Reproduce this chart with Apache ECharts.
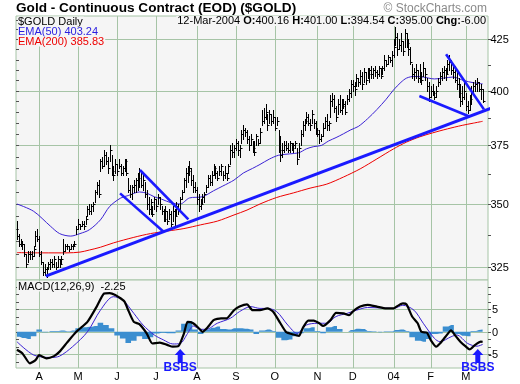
<!DOCTYPE html>
<html><head><meta charset="utf-8">
<script src="https://cdn.jsdelivr.net/npm/echarts@6/dist/echarts.min.js"></script>
<style>html,body{margin:0;padding:0;background:#fff}#c{width:520px;height:384px}</style>
</head><body><div id="c"></div>
<script>
// ---- Data (trading-day index 0 = 14-Mar-2003 ... 251 = 12-Mar-2004) ----
const monthLabels = ['A','M','J','J','A','S','O','N','D','04','F','M'];
const monthIdx = [12,33,54,75,97,118,139,162,181,203,223,242];

const high = [
343,338,336,335,334,330,331,331,331,333,
339,340,337,331,327,326,325,327,328,328,
329,327,329,328,329,336,334,334,333,334,
334,335,341,344,342,343,343,345,349,350,
350,351,356,359,360,369,370,373,372,370,
375,371,366,369,367,369,367,366,369,369,
361,358,358,360,361,363,365,363,362,359,
356,353,352,349,353,352,354,353,349,348,
349,347,348,347,349,348,351,350,353,356,
361,365,366,368,365,362,359,357,354,352,
354,355,358,362,362,364,367,366,364,366,
367,364,366,363,367,375,376,375,378,377,
375,382,384,383,382,379,380,377,377,380,
378,383,391,392,394,389,391,389,391,388,
388,382,379,376,377,377,376,377,376,376,
377,374,376,382,386,387,390,389,387,391,
387,386,383,382,380,385,388,389,386,398,
399,398,393,396,398,396,396,395,398,401,
405,405,404,408,406,410,409,411,409,411,
411,412,411,412,410,412,411,412,417,415,
417,416,419,425,431,428,425,428,424,430,
428,425,421,413,411,413,410,413,409,414,
411,406,404,402,403,400,402,406,409,411,
412,411,415,417,415,413,412,409,406,403,
402,404,399,395,398,402,404,405,406,404,
403,401];
const low = [
336,333,333,332,329,325,327,328,328,329,
333,335,329,326,322,322,321,324,324,325,
325,324,325,325,326,330,331,332,331,332,
332,333,338,340,340,341,340,342,345,346,
346,347,351,354,353,364,365,366,367,363,
368,362,360,363,362,365,362,362,364,362,
355,353,352,355,355,356,357,357,356,353,
348,346,346,345,348,347,350,348,346,343,
343,342,344,341,343,341,345,346,348,352,
355,357,359,362,358,355,355,350,347,348,
350,351,355,357,358,358,362,361,360,362,
362,360,361,360,363,367,370,370,373,371,
370,376,378,379,376,373,375,372,371,375,
375,376,384,385,387,382,385,384,385,382,
384,372,368,370,372,373,372,372,373,372,
374,367,370,375,379,382,385,384,382,385,
383,380,379,376,377,379,383,382,382,388,
393,390,386,389,390,389,392,389,394,395,
397,400,398,402,402,403,401,404,403,406,
404,406,406,407,406,407,406,408,410,412,
413,414,412,416,422,417,420,419,417,421,
421,417,413,406,405,406,404,404,403,407,
405,400,395,397,398,396,397,402,403,405,
406,405,408,410,408,406,404,401,397,393,
394,396,391,389.5,391,394,399,400,400,400,
396,394.54];
const close = [
337,334,334,334,330,326,330,330,329,332,
337,336,330,327,323,324,322,326,327,326,
328,325,328,326,328,331,333,333,332,333,
333,334,340,342,341,342,341,344,348,347,
349,350,355,358,354,368,366,371,368,365,
373,364,362,367,364,366,363,365,368,363,
356,354,357,358,360,361,364,358,360,354,
350,348,351,346,352,349,353,350,347,344,
347,343,346,342,347,345,349,348,352,355,
360,363,364,365,360,357,356,352,349,350,
353,354,357,361,359,362,365,363,361,364,
366,362,363,361,366,373,372,374,376,373,
374,380,382,381,378,375,378,374,372,379,
376,381,386,388,390,384,389,386,388,383,
386,373,371,373,375,374,373,376,374,375,
376,369,374,380,384,386,388,385,384,389,
385,382,380,378,379,383,386,384,385,395,
396,392,388,394,391,393,394,390,396,399,
403,402,401,406,404,407,403,409,405,408,
410,408,410,409,408,411,407,411,415,413,
416,415,417,421,426,420,422,424,419,428,
423,420,414,408,409,410,406,407,405,411,
408,402,397,400,399,397,400,404,407,409,
410,408,413,414,410,409,405,403,399,395,
397,400,393,391,396,399,402,403,404,401,
401,395];

const ema50X = [0,9,18,23,29,34,39,45,50,56,60,66,70,74,78,83,88,93,100,106,111,117,122,127,131,136,141,147,152,156,160,164,168,172,176,180,184,189,194,199,203,207,210,214,219,225,230,235,241,246,251];
const ema50Y = [350,347,341,338,337,338,339.5,343.5,349,352.5,353.5,355,354.5,353,352,350.5,350,352.5,353,355.5,357.5,360,363,365,366.7,369,370.7,371.3,371.8,373.5,374.5,375,377,378.5,380.2,382,383.5,387,391.2,396,400.4,404,406,406.8,406.5,405.6,406,406.5,404.8,403.8,403.24];
const ema200X = [0,14,27,34,39,45,52,63,72,81,90,99,108,117,124,131,140,149,158,167,176,185,194,203,210,217,224,232,240,246,251];
const ema200Y = [330.5,330.4,330.4,330.7,331.5,332.6,334.3,336.5,338,339,340,341.5,343,345.5,347.5,350,352.7,354.6,356.6,358.3,361.3,364.8,369.1,373.5,376.5,378.8,380.6,382.4,384,385,385.83];

// hand-drawn trend lines: [index, price] end points
const trendMain = [[15.55,321.5],[271.2,396.9]];
const chanUpper = [[66.3,364.3],[92.4,343.7]];
const chanLower = [[55.6,354.4],[78.9,338.8]];
const wedgeUpper = [[231.3,417.6],[251.7,391.3]];
const wedgeLower = [[216.9,397.5],[244.2,387.9]];

const macdX = [0,3,7,10,12,16,20,23,27,32,38,43,47,50,53,56,58,60,63,66,70,73,77,81,84,87,90,92,95,98,100,103,106,110,113,117,120,124,127,131,135,138,142,145,149,152,154,157,160,163,165,169,172,176,179,181,185,189,194,199,203,205,208,210,213,216,218,221,223,226,228,231,234,236,239,242,244,247,250,251];
const macdY = [-4.0,-4.8,-7.0,-6.3,-5.2,-5.9,-5.4,-4.4,-2.4,0.0,2.2,5.6,8.5,8.6,8.2,7.4,6.7,4.8,2.2,1.7,-0.4,-2.6,-2.4,-2.9,-3.3,-3.2,-0.4,2.2,1.9,0.8,0.0,1.1,2.6,3.0,3.0,4.8,5.6,6.1,4.8,4.8,5.2,4.5,1.9,0.0,-0.6,-0.9,0.8,2.5,2.5,1.9,1.3,2.6,4.2,4.1,3.7,4.5,5.6,6.0,5.6,5.2,5.2,5.7,6.3,6.1,3.4,1.9,0.0,-0.2,-1.8,-3.3,-2.6,-1.1,0.3,-0.7,-2.2,-3.3,-3.9,-2.9,-2.2,-2.25];
const signalX = [0,9,18,23,30,38,45,52,57,63,68,74,79,84,88,92,95,99,102,108,115,120,126,131,135,140,146,151,156,162,167,172,178,183,189,196,203,208,214,219,225,228,234,237,243,248,251];
const signalY = [-2.2,-5.15,-5.7,-5.4,-3.3,0.0,4.8,7.8,7.1,4.1,1.5,-0.7,-1.8,-2.7,-2.6,-0.35,1.3,0.55,0.55,1.9,3.0,4.5,5.6,5.2,5.2,4.5,1.5,-0.35,1.5,1.9,1.9,3.4,4.1,4.8,5.4,5.3,5.2,5.9,4.8,1.9,-1.45,-2.2,-1.1,-0.7,-2.6,-3.2,-2.8];
const histX = [0,3,6,9,12,15,18,21,24,27,30,33,36,39,42,45,48,51,54,57,60,63,66,69,72,75,78,81,84,87,90,93,96,99,102,105,108,111,114,117,120,123,126,129,132,135,138,141,144,147,150,153,156,159,162,165,168,171,174,177,180,183,186,189,192,195,198,201,204,207,210,213,216,219,222,225,228,231,234,237,240,243,246,249,251];
const histY = [-1.1,-1.4,-1.6,-1.0,0.5,-0.1,0.2,0.2,0.3,0.1,0.3,0.8,1.0,1.1,1.3,2.0,1.5,0.8,-0.8,-1.5,-2.5,-2.0,-1.0,-1.6,-1.2,-0.4,-0.2,-0.3,-0.3,0.3,1.8,2.4,0.5,-0.5,0.5,0.9,1.2,0.6,0.5,0.8,0.8,0.7,0.5,-0.5,0.3,0.5,0.2,-1.3,-1.9,-1.7,-1.0,-0.3,0.8,1.0,0.2,-0.3,1.0,1.3,0.6,0.0,0.4,0.7,0.6,0.2,0.1,-0.1,0.1,0.1,0.4,0.5,0.2,-1.2,-2.0,-2.2,-1.6,-0.5,-0.4,1.2,1.5,-0.5,-0.9,-1.0,0.2,0.4,0.5];

const bsbsX = [88, 248.4];
const bsbsY = [-5.4, -5.4];

const priceGridVals = [325,350,375,400,425];
const priceRightTicks = [325,337.5,350,362.5,375,387.5,400,412.5,425];
const priceLeftTicks = [325,330,335,340,345,350,355,360,365,370,375,380,385,390,395,400,405,410,415,420,425,430,435];
const macdGridVals = [-5,0,5];
const macdTicks = [-6.667,-5,-3.333,-1.667,0,1.667,3.333,5,6.667,8.333,10];

// ---- Styling ----
const F = '"Liberation Sans", Arial, sans-serif';
const BG = '#f5f5f5', GRID = '#a6c4a6';
const BLUE = '#1a1aff', EMA_BLUE = '#3b22d4', RED = '#ee0000', HIST = '#3b8ed0';

const pair = (xs, ys) => xs.map((x, k) => [x, ys[k]]);

function vGridItem(params, api) {
  const cs = params.coordSys;
  const x = Math.round(api.coord([api.value(0), api.value(1)])[0]) + 0.5;
  return {type:'line', silent:true, shape:{x1:x, y1:cs.y, x2:x, y2:cs.y + cs.height}, style:{stroke:GRID, lineWidth:1}};
}
function hGridFactory(alignRight, labelX) {
  return function (params, api) {
    const cs = params.coordSys;
    const y = Math.round(api.coord([0, api.value(1)])[1]) + 0.5;
    const v = api.value(1);
    return {type:'group', silent:true, children:[
      {type:'line', shape:{x1:cs.x, y1:y, x2:cs.x + cs.width, y2:y}, style:{stroke:GRID, lineWidth:1}},
      {type:'line', shape:{x1:cs.x + cs.width, y1:y, x2:cs.x + cs.width + 3, y2:y}, style:{stroke:'#333', lineWidth:1}},
      {type:'text', x: cs.x + cs.width + labelX, y: y, style:{text:String(v), fill:'#000', fontSize:11, fontFamily:F, align: alignRight ? 'right' : 'left', verticalAlign:'middle'}}
    ]};
  };
}
function tickFactory(side) {
  return function (params, api) {
    const cs = params.coordSys;
    const y = Math.round(api.coord([0, api.value(1)])[1]) + 0.5;
    const x0 = side === 'right' ? cs.x + cs.width : cs.x;
    return {type:'line', silent:true, shape:{x1:x0, y1:y, x2:x0 + 3, y2:y}, style:{stroke:'#555', lineWidth:1}};
  };
}
function barItem(params, api) {
  const i = api.value(0);
  const ph = api.coord([i, api.value(1)]);
  const pl = api.coord([i, api.value(2)]);
  const pc = api.coord([i, api.value(3)]);
  const x = Math.round(ph[0]) + 0.5;
  const yc = Math.round(pc[1]) + 0.5;
  return {type:'group', children:[
    {type:'line', shape:{x1:x, y1:Math.round(ph[1]), x2:x, y2:Math.round(pl[1]) + 1}, style:{stroke:'#000', lineWidth:1}},
    {type:'line', shape:{x1:x, y1:yc, x2:x + 2, y2:yc}, style:{stroke:'#000', lineWidth:1}}
  ]};
}
function trendSeries(pts, width, clip) {
  return {type:'line', xAxisIndex:0, yAxisIndex:0, data:pts, symbol:'none', clip:clip, z:6,
    lineStyle:{color:BLUE, width:width}, silent:true};
}

const chart = echarts.init(document.getElementById('c'), null, {renderer:'canvas'});
chart.setOption({
  animation:false,
  backgroundColor:'#ffffff',
  grid:[
    {left:16, top:16, width:472, height:264, show:true, backgroundColor:BG, borderColor:GRID, borderWidth:1},
    {left:16, top:280, width:472, height:88, show:true, backgroundColor:BG, borderColor:GRID, borderWidth:1}
  ],
  xAxis:[
    {gridIndex:0, type:'value', min:-0.5, max:253.9, show:false},
    {gridIndex:1, type:'value', min:-0.5, max:253.9,
     axisLine:{show:false}, axisTick:{show:false}, splitLine:{show:false},
     axisLabel:{customValues:monthIdx, formatter:(v) => { const k = monthIdx.indexOf(v); return k >= 0 ? monthLabels[k] : ''; },
                color:'#000', fontSize:11, fontFamily:F, margin:3}}
  ],
  yAxis:[
    {gridIndex:0, type:'log', min:320, max:436.84, show:false},
    {gridIndex:1, type:'value', min:-8.04, max:11.51, show:false}
  ],
  series:[
    {type:'custom', xAxisIndex:0, yAxisIndex:0, z:1, silent:true, renderItem:vGridItem, data:monthIdx.map(i => [i, 400])},
    {type:'custom', xAxisIndex:0, yAxisIndex:0, z:1, silent:true, renderItem:hGridFactory(false, 2.5), data:priceGridVals.map(v => [0, v])},
    {type:'custom', xAxisIndex:0, yAxisIndex:0, z:1, silent:true, renderItem:tickFactory('right'), data:priceRightTicks.map(v => [0, v])},
    {type:'custom', xAxisIndex:0, yAxisIndex:0, z:1, silent:true, renderItem:tickFactory('left'), data:priceLeftTicks.map(v => [0, v])},
    {type:'line', xAxisIndex:0, yAxisIndex:0, data:pair(ema200X, ema200Y), symbol:'none', smooth:0.3, z:3, lineStyle:{color:RED, width:1}, silent:true},
    {type:'line', xAxisIndex:0, yAxisIndex:0, data:pair(ema50X, ema50Y), symbol:'none', smooth:0.3, z:3, lineStyle:{color:EMA_BLUE, width:1}, silent:true},
    {type:'custom', xAxisIndex:0, yAxisIndex:0, z:4, silent:true, renderItem:barItem, encode:{x:0, y:[1,2,3]},
     data:close.map((c, i) => [i, high[i], low[i], c])},
    trendSeries(trendMain, 3, false),
    trendSeries(chanUpper, 2.6, true),
    trendSeries(chanLower, 2.6, true),
    trendSeries(wedgeUpper, 2.6, true),
    trendSeries(wedgeLower, 2.6, true),
    {type:'custom', xAxisIndex:1, yAxisIndex:1, z:1, silent:true, renderItem:vGridItem, data:monthIdx.map(i => [i, 0])},
    {type:'custom', xAxisIndex:1, yAxisIndex:1, z:1, silent:true, renderItem:hGridFactory(true, 10), data:macdGridVals.map(v => [0, v])},
    {type:'custom', xAxisIndex:1, yAxisIndex:1, z:1, silent:true, renderItem:tickFactory('right'), data:macdTicks.map(v => [0, v])},
    {type:'custom', xAxisIndex:1, yAxisIndex:1, z:1, silent:true, renderItem:tickFactory('left'), data:macdTicks.map(v => [0, v])},
    {type:'line', xAxisIndex:1, yAxisIndex:1, data:pair(histX, histY), step:'middle', symbol:'none', z:2,
     lineStyle:{width:0, color:HIST}, areaStyle:{color:HIST, opacity:1}, silent:true},
    {type:'line', xAxisIndex:1, yAxisIndex:1, data:pair(signalX, signalY), symbol:'none', smooth:0.3, z:3, lineStyle:{color:EMA_BLUE, width:1}, silent:true},
    {type:'line', xAxisIndex:1, yAxisIndex:1, data:pair(macdX, macdY), symbol:'none', smooth:0.2, z:4, lineStyle:{color:'#000', width:2.2}, silent:true},
    {type:'scatter', xAxisIndex:1, yAxisIndex:1, z:8, silent:true, clip:false,
     symbol:'path://M5.5,0L11,6L8,6L8,14L3,14L3,6L0,6Z', symbolSize:[11,14],
     itemStyle:{color:BLUE, opacity:1},
     label:{show:true, position:'bottom', distance:-1, formatter:'BSBS', color:BLUE, fontWeight:'bold', fontSize:12, fontFamily:F},
     data:pair(bsbsX, bsbsY)}
  ],
  graphic:[
    {type:'text', z:100, x:16, y:8.5, style:{text:'Gold - Continuous Contract (EOD) ($GOLD)', fontSize:13.6, fontWeight:'bold', fontFamily:F, fill:'#000', verticalAlign:'middle'}},
    {type:'text', z:100, x:487, y:8.5, style:{text:'© StockCharts.com', fontSize:12, fontFamily:F, fill:'#8a8a8a', align:'right', verticalAlign:'middle'}},
    {type:'text', z:100, x:18, y:21.5, style:{text:'$GOLD Daily', fontSize:11, fontFamily:F, fill:'#000', verticalAlign:'middle', backgroundColor:BG, lineHeight:10, padding:[0,1,0,0]}},
    {type:'text', z:100, x:18, y:31.5, style:{text:'EMA(50) 403.24', fontSize:11, fontFamily:F, fill:'#2a1ee0', verticalAlign:'middle', backgroundColor:BG, lineHeight:10, padding:[0,1,0,0]}},
    {type:'text', z:100, x:18, y:41.5, style:{text:'EMA(200) 385.83', fontSize:11, fontFamily:F, fill:RED, verticalAlign:'middle', backgroundColor:BG, lineHeight:10, padding:[0,1,0,0]}},
    {type:'text', z:100, x:486, y:21, style:{text:'12-Mar-2004 {b|O:}400.16 {b|H:}401.00 {b|L:}394.54 {b|C:}395.00 {b|Chg:}-6.00',
      fontSize:11, fontFamily:F, fill:'#000', align:'right', verticalAlign:'middle', backgroundColor:BG, lineHeight:10, padding:[0,0,0,1],
      rich:{b:{fontSize:11, fontFamily:F, fontWeight:'bold', fill:'#000', lineHeight:10}}}},
    {type:'text', z:100, x:17, y:286.5, style:{text:'MACD(12,26,9)  -2.25', fontSize:11, fontFamily:F, fill:'#000', verticalAlign:'middle', backgroundColor:BG, lineHeight:10, padding:[0,1,0,1]}}
  ]
});
</script></body></html>
